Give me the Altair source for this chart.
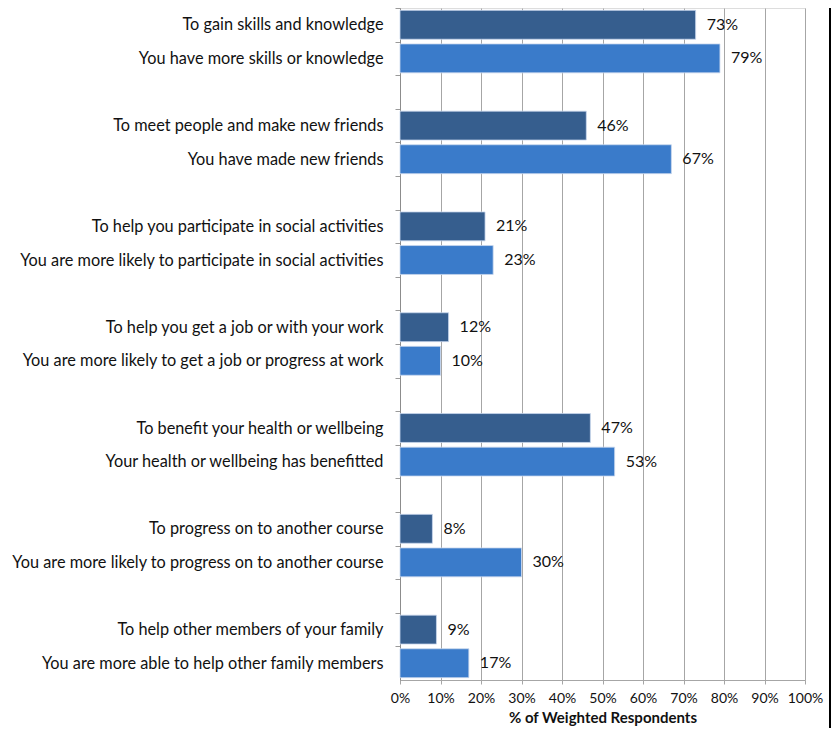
import altair as alt
import pandas as pd

# ---- data ----
motives = [
    "To gain skills and knowledge",
    "To meet people and make new friends",
    "To help you participate in social activities",
    "To help you get a job or with your work ",
    "To benefit your health or wellbeing",
    "To progress on to another course ",
    "To help other members of your family",
]
outcomes = [
    "You have more skills or knowledge",
    "You have made new friends",
    "You are more likely to participate in social activities",
    "You are more likely to get a job or progress at work",
    "Your health or wellbeing has benefitted",
    "You are more likely to progress on to another course",
    "You are more able to help other family members",
]
motive_values = [73, 46, 21, 12, 47, 8, 9]
outcome_values = [79, 67, 23, 10, 53, 30, 17]
x_ticks = list(range(0, 101, 10))

# ---- build table and category order (with empty spacer slots) ----
rows = []
order = []
for i in range(len(motives)):
    rows.append({"label": motives[i], "value": motive_values[i], "kind": "motive"})
    rows.append({"label": outcomes[i], "value": outcome_values[i], "kind": "outcome"})
    order += [motives[i], outcomes[i]]
    if i < len(motives) - 1:
        order.append(" " * (i + 1))
df = pd.DataFrame(rows)

PLOT_W = 405
PLOT_H = 672
STEP = PLOT_H / len(order)
FONT = "Lato"

y_enc = alt.Y(
    "label:N",
    sort=order,
    scale=alt.Scale(domain=order, paddingInner=0.14, paddingOuter=0.07),
    axis=alt.Axis(
        title=None,
        labelFont=FONT,
        labelFontSize=16.3,
        labelColor="#111111",
        labelPadding=12,
        labelLimit=420,
        tickSize=5,
        tickColor="#9a9a9a",
        domainColor="#8c8c8c",
        tickOffset=-STEP / 2,
        labelOffset=STEP / 2,
    ),
)

x_enc = alt.X(
    "value:Q",
    scale=alt.Scale(domain=[0, 100], nice=False),
    axis=alt.Axis(
        values=x_ticks,
        labelExpr="datum.value + '%'",
        labelOverlap=False,
        labelFlush=False,
        title="% of Weighted Respondents",
        titleFont=FONT,
        titleFontSize=15,
        titleFontWeight="bold",
        titleColor="#111111",
        titlePadding=5,
        labelFont=FONT,
        labelFontSize=14,
        labelColor="#111111",
        labelPadding=7,
        grid=True,
        gridColor="#a6a6a6",
        gridWidth=1,
        tickSize=4,
        tickColor="#a6a6a6",
        domainColor="#a6a6a6",
    ),
)

base = alt.Chart(df)

bars = base.mark_bar(stroke="#c9d8ee", strokeWidth=0.8).encode(
    y=y_enc,
    x=x_enc,
    color=alt.Color(
        "kind:N",
        scale=alt.Scale(domain=["motive", "outcome"], range=["#365E8E", "#3A7BCA"]),
        legend=None,
    ),
)

texts = base.transform_calculate(txt="datum.value + '%'").mark_text(
    align="left", baseline="middle", dx=11, font=FONT, fontSize=16, color="#111111"
).encode(
    y=alt.Y("label:N", sort=order),
    x=alt.X("value:Q"),
    text="txt:N",
)

border = alt.Chart(pd.DataFrame({"a": [0]})).mark_rule(
    color="#000000", strokeWidth=2
).encode(
    x=alt.value(430), y=alt.value(-10), y2=alt.value(740)
)

chart = (
    alt.layer(bars, texts, border)
    .properties(
        width=PLOT_W,
        height=PLOT_H,
        autosize=alt.AutoSizeParams(type="none"),
        padding={"left": 392, "top": 0, "right": 27, "bottom": 48},
    )
    .configure_view(strokeWidth=0)
    .configure(background="white")
)

chart.save("out.html", embed_options={"renderer": "svg", "actions": False})
